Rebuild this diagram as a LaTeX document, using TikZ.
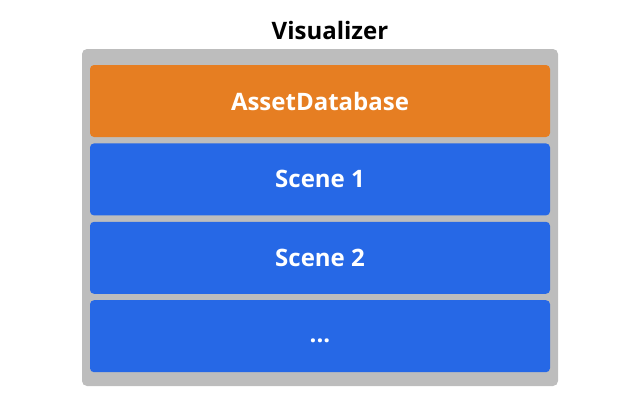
\documentclass[tikz,border=0pt]{standalone}
\usepackage{fontspec}
\setmainfont{Open Sans}
\usetikzlibrary{positioning}
\definecolor{framegray}{HTML}{BDBDBD}
\definecolor{assetorange}{HTML}{E67E22}
\definecolor{sceneblue}{HTML}{2668E6}
\begin{document}
\begin{tikzpicture}[x=1pt, y=-1pt, node distance=6pt,
    layer/.style={rounded corners=4pt, minimum width=460pt, minimum height=72pt, inner sep=0pt,
        text=white, font=\fontsize{24}{28}\selectfont\bfseries}]
\useasboundingbox (0,0) rectangle (640,400);
\node[fill=framegray, rounded corners=5pt, minimum width=476pt, minimum height=337pt, inner sep=0pt] (visualizer) at (320,217.5) {};
\node[font=\fontsize{24}{28}\selectfont\bfseries, inner sep=0pt] (title) at (330,30) {Visualizer};

\node[layer, fill=assetorange] (asset) at (320,101) {AssetDatabase};
\node[layer, fill=sceneblue, below=of asset] (scene1) {Scene 1};
\node[layer, fill=sceneblue, below=of scene1] (scene2) {Scene 2};
\node[layer, fill=sceneblue, below=of scene2, text height=12pt, text depth=0pt] (more) {...};
\end{tikzpicture}
\end{document}
